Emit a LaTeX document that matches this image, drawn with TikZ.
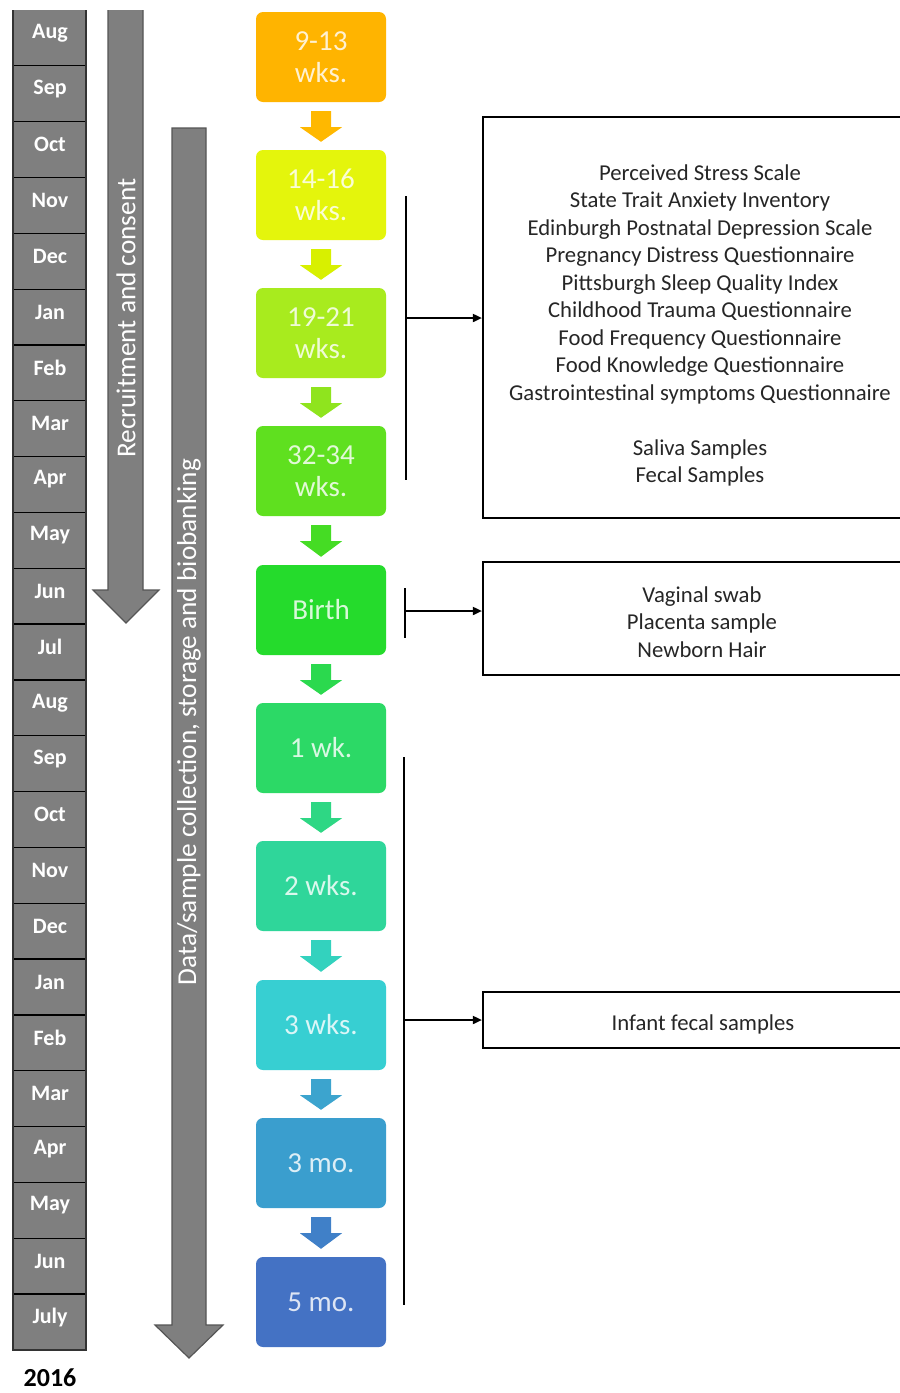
\documentclass[tikz,border=0pt]{standalone}
\usepackage{fontspec}
\setmainfont{Carlito}
\usetikzlibrary{calc,arrows.meta}
\definecolor{c1}{HTML}{FFB400}
\definecolor{c2}{HTML}{E4F50C}
\definecolor{c3}{HTML}{A8EB1E}
\definecolor{c4}{HTML}{5FE01F}
\definecolor{c5}{HTML}{25DB2C}
\definecolor{c6}{HTML}{2CD966}
\definecolor{c7}{HTML}{2FD69A}
\definecolor{c8}{HTML}{37CFD2}
\definecolor{c9}{HTML}{3A9ECE}
\definecolor{c10}{HTML}{4472C4}
\definecolor{a1}{HTML}{FFB800}
\definecolor{a2}{HTML}{D8F000}
\definecolor{a3}{HTML}{8FE41E}
\definecolor{a4}{HTML}{45DC24}
\definecolor{a5}{HTML}{2BD94E}
\definecolor{a6}{HTML}{2ED784}
\definecolor{a7}{HTML}{33D2BE}
\definecolor{a8}{HTML}{3CA4CE}
\definecolor{a9}{HTML}{4080C8}
\definecolor{graybar}{HTML}{7F7F7F}
\definecolor{grayedge}{HTML}{555555}
\definecolor{infotext}{HTML}{262626}
\newcommand\stagearr[3]{%
  \fill[#3] ($(#1.south)+(-10,9)$) -- ($(#1.south)+(10,9)$) -- ($(#1.south)+(10,25)$)
    -- ($(#1.south)+(21,25)$) -- ($(#2.north)+(0,-8)$) -- ($(#1.south)+(-21,25)$)
    -- ($(#1.south)+(-10,25)$) -- cycle;}
\begin{document}
\begin{tikzpicture}[x=1pt,y=-1pt,
  stage/.style={fill=#1, text=white!82!#1, rounded corners=7pt, minimum width=130pt,
    minimum height=90pt, inner sep=0pt, align=center,
    font=\fontsize{29}{32}\selectfont},
  month/.style={text=white, font=\bfseries\fontsize{22}{24}\selectfont},
  vlabel/.style={rotate=90, text=white, font=\fontsize{27.3}{30}\selectfont},
  infobox/.style={draw=black, line width=2.2pt, minimum width=440pt, inner sep=0pt},
  infotxt/.style={text=infotext, align=center, font=\fontsize{22.7}{27.5}\selectfont},
  bracket/.style={draw=black, line width=1.8pt},
  feed/.style={draw=black, line width=1.8pt, -{Triangle[length=9pt,width=8pt]}},
  bar/.style={fill=graybar},
  baredge/.style={draw=grayedge, line width=1.2pt}
]
\useasboundingbox (0,0) rectangle (900,1393);
\fill[white] (0,0) rectangle (900,1393);

% month column
\fill[bar] (13,10) rectangle (86,1350);
\foreach \i in {1,...,23} \draw[black, line width=1.3pt] (13,{10+55.83*\i}) -- (86,{10+55.83*\i});
\draw[baredge, draw=black!80, line width=1.5pt] (13,10) -- (13,1350) -- (86,1350) -- (86,10);
\foreach \m [count=\i from 0] in {Aug,Sep,Oct,Nov,Dec,Jan,Feb,Mar,Apr,May,Jun,Jul,Aug,Sep,Oct,Nov,Dec,Jan,Feb,Mar,Apr,May,Jun,July}
  \node[month] (m\i) at (50,{10+55.83*(\i+0.5)-5}) {\m};
\node[font=\bfseries\fontsize{26}{28}\selectfont, text=black, inner sep=1pt] (year) at (50,1378) {2016};

% recruitment arrow
\fill[bar] (108,10) -- (108,590) -- (93,590) -- (126,623) -- (159,590) -- (143,590) -- (143,10) -- cycle;
\draw[baredge] (108,10) -- (108,590) -- (93,590) -- (126,623) -- (159,590) -- (143,590) -- (143,10);
\node[vlabel] (rec) at (126,318) {Recruitment and consent};

% data arrow
\filldraw[bar, baredge] (172,128) -- (172,1325) -- (155,1325) -- (189,1358) -- (223,1325) -- (206,1325) -- (206,128) -- cycle;
\node[vlabel] (data) at (189,722) {Data/sample collection, storage and biobanking};

% stages
\node[stage=c1] (s1) at (321,57) {9-13\\wks.};
\node[stage=c2] (s2) at (321,195) {14-16\\wks.};
\node[stage=c3] (s3) at (321,333) {19-21\\wks.};
\node[stage=c4] (s4) at (321,471) {32-34\\wks.};
\node[stage=c5] (s5) at (321,610) {Birth};
\node[stage=c6] (s6) at (321,748) {1 wk.};
\node[stage=c7] (s7) at (321,886) {2 wks.};
\node[stage=c8] (s8) at (321,1025) {3 wks.};
\node[stage=c9] (s9) at (321,1163) {3 mo.};
\node[stage=c10] (s10) at (321,1302) {5 mo.};
\stagearr{s1}{s2}{a1}
\stagearr{s2}{s3}{a2}
\stagearr{s3}{s4}{a3}
\stagearr{s4}{s5}{a4}
\stagearr{s5}{s6}{a5}
\stagearr{s6}{s7}{a6}
\stagearr{s7}{s8}{a7}
\stagearr{s8}{s9}{a8}
\stagearr{s9}{s10}{a9}

% info boxes (right edge cut by the picture border)
\begin{scope}
\clip (0,0) rectangle (900,1393);
\node[infobox, minimum height=401pt] (info1) at (703,317.5) {};
\node[infobox, minimum height=113pt] (info2) at (703,618.5) {};
\node[infobox, minimum height=56pt] (info3) at (703,1020) {};
\end{scope}
\node[infotxt] (t1) at (700,325.5) {Perceived Stress Scale\\State Trait Anxiety Inventory\\Edinburgh Postnatal Depression Scale\\Pregnancy Distress Questionnaire\\Pittsburgh Sleep Quality Index\\Childhood Trauma Questionnaire\\Food Frequency Questionnaire\\Food Knowledge Questionnaire\\Gastrointestinal symptoms Questionnaire\\[27.5pt]Saliva Samples\\Fecal Samples};
\node[infotxt] (t2) at (702,622) {Vaginal swab\\Placenta sample\\Newborn Hair};
\node[infotxt] (t3) at (703,1024) {Infant fecal samples};

% brackets and feed arrows
\coordinate (k1t) at (406,196);
\coordinate (k1b) at (406,480);
\coordinate (k1m) at (406,318);
\draw[bracket] (k1t) -- (k1b);
\draw[feed] (k1m) -- (k1m -| info1.west);
\coordinate (k2t) at (405,588);
\coordinate (k2b) at (405,638);
\coordinate (k2m) at (405,611);
\draw[bracket] (k2t) -- (k2b);
\draw[feed] (k2m) -- (k2m -| info2.west);
\coordinate (k3t) at (404,757);
\coordinate (k3b) at (404,1305);
\coordinate (k3m) at (404,1020);
\draw[bracket] (k3t) -- (k3b);
\draw[feed] (k3m) -- (k3m -| info3.west);
\end{tikzpicture}
\end{document}
